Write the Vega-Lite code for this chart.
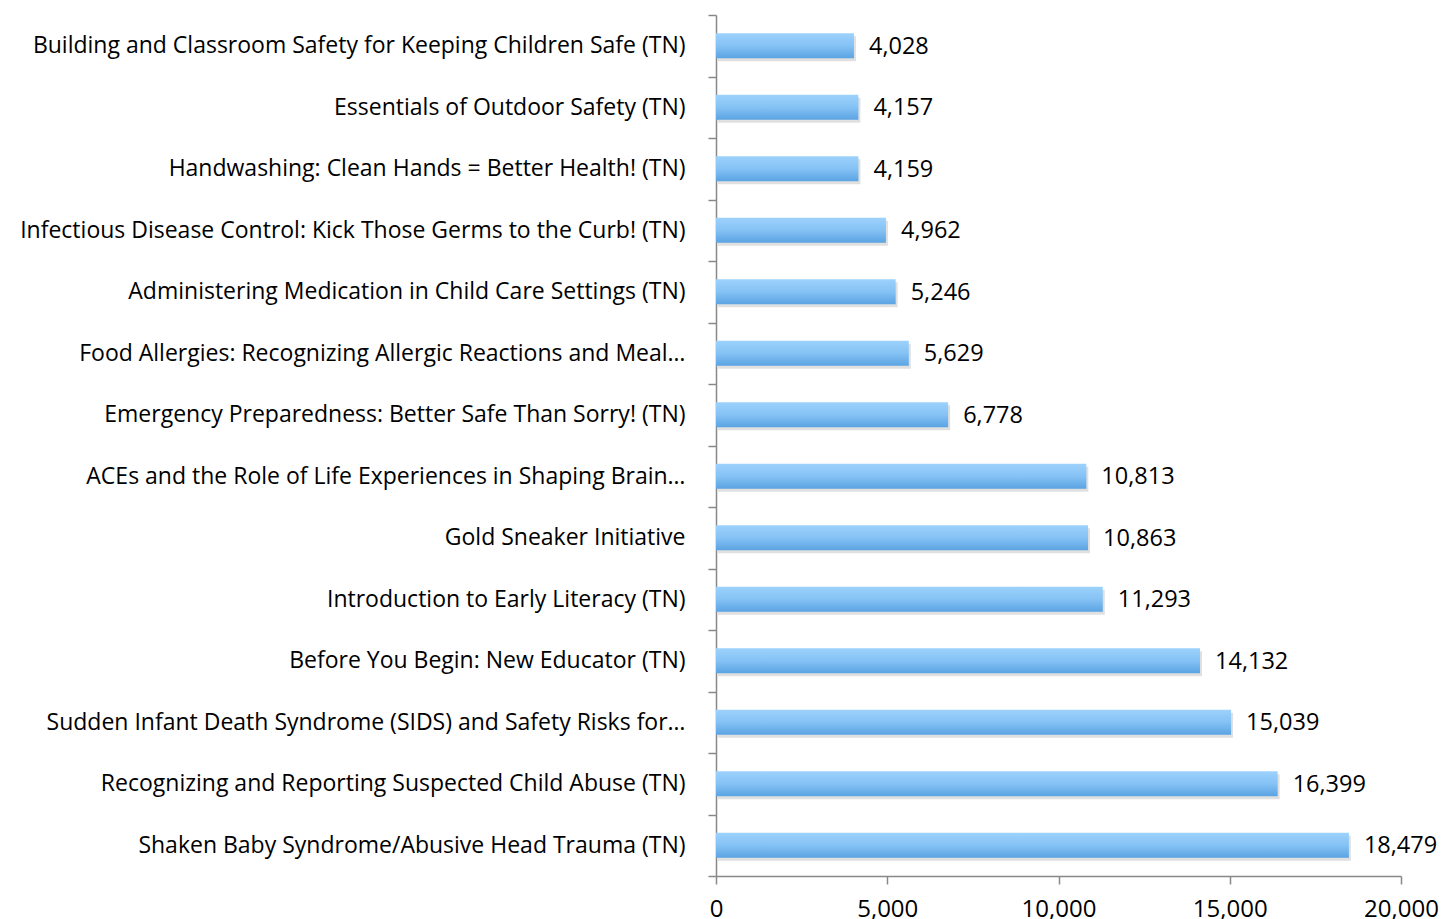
{
  "$schema": "https://vega.github.io/schema/vega-lite/v6.json",
  "autosize": {"type": "none"},
  "padding": {"left": 716, "top": 15, "right": 43, "bottom": 43},
  "width": 685,
  "height": 861,
  "background": "white",
  "config": {
    "view": {"stroke": null},
    "font": "Open Sans",
    "axis": {"labelFont": "Open Sans", "labelFontSize": 23, "labelColor": "#000000", "domainColor": "#888888", "tickColor": "#888888", "domainWidth": 1.5, "tickWidth": 1.5, "grid": false, "title": null}
  },
  "data": {
    "values": [
      {"course": "Building and Classroom Safety for Keeping Children Safe (TN)", "users": 4028, "order": 1},
      {"course": "Essentials of Outdoor Safety (TN)", "users": 4157, "order": 2},
      {"course": "Handwashing: Clean Hands = Better Health! (TN)", "users": 4159, "order": 3},
      {"course": "Infectious Disease Control: Kick Those Germs to the Curb! (TN)", "users": 4962, "order": 4},
      {"course": "Administering Medication in Child Care Settings (TN)", "users": 5246, "order": 5},
      {"course": "Food Allergies: Recognizing Allergic Reactions and Meal…", "users": 5629, "order": 6},
      {"course": "Emergency Preparedness: Better Safe Than Sorry! (TN)", "users": 6778, "order": 7},
      {"course": "ACEs and the Role of Life Experiences in Shaping Brain…", "users": 10813, "order": 8},
      {"course": "Gold Sneaker Initiative", "users": 10863, "order": 9},
      {"course": "Introduction to Early Literacy (TN)", "users": 11293, "order": 10},
      {"course": "Before You Begin: New Educator (TN)", "users": 14132, "order": 11},
      {"course": "Sudden Infant Death Syndrome (SIDS) and Safety Risks for…", "users": 15039, "order": 12},
      {"course": "Recognizing and Reporting Suspected Child Abuse (TN)", "users": 16399, "order": 13},
      {"course": "Shaken Baby Syndrome/Abusive Head Trauma (TN)", "users": 18479, "order": 14}
    ]
  },
  "encoding": {
    "y": {
      "field": "course", "type": "nominal",
      "sort": {"field": "order", "order": "ascending"},
      "scale": {"paddingInner": 0, "paddingOuter": 0},
      "axis": {"tickBand": "extent", "tickSize": 8, "labelLimit": 0, "labelPadding": 23}
    },
    "x": {
      "field": "users", "type": "quantitative",
      "scale": {"domain": [0, 20000], "nice": false},
      "axis": {"values": [0, 5000, 10000, 15000, 20000], "format": ",d", "tickSize": 8, "labelPadding": 13, "labelFontSize": 24, "labelFlush": false}
    }
  },
  "layer": [
    {
      "mark": {"type": "bar", "color": "#000000", "opacity": 0.12, "yOffset": 3, "xOffset": 2, "height": {"band": 0.41}}
    },
    {
      "mark": {
        "type": "bar", "height": {"band": 0.41},
        "color": {"gradient": "linear", "x1": 0, "y1": 0, "x2": 0, "y2": 1,
          "stops": [{"offset": 0, "color": "#9dd2fc"}, {"offset": 0.5, "color": "#85c2f5"}, {"offset": 1, "color": "#5aa3e2"}]}
      }
    },
    {
      "mark": {"type": "text", "align": "left", "baseline": "middle", "dx": 15, "dy": 1, "fontSize": 23.5, "font": "Open Sans", "color": "#000000"},
      "encoding": {"text": {"field": "users", "type": "quantitative", "format": ","}}
    }
  ]
}
